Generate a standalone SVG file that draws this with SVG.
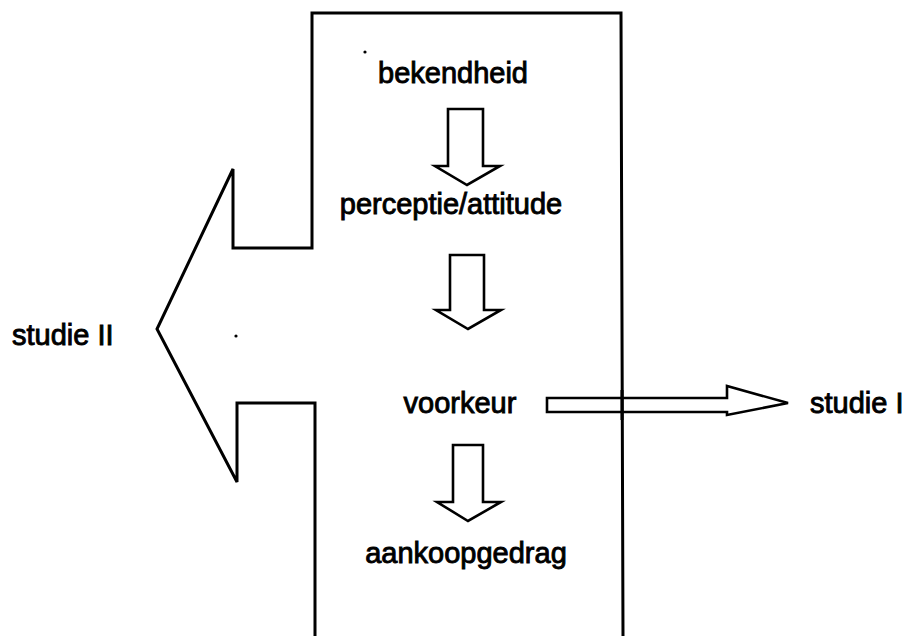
<svg xmlns="http://www.w3.org/2000/svg" width="908" height="636" viewBox="0 0 908 636">
  <style>
    .outline { fill: none; stroke: #000; stroke-width: 3; stroke-linejoin: miter; }
    .hollow { fill: none; stroke: #000; stroke-width: 2.6; stroke-linejoin: miter; }
    .label { font-family: "Liberation Sans", Arial, sans-serif; font-size: 29px; fill: #000; stroke: #000; stroke-width: 0.9; }
    .speck { fill: #000; }
  </style>
  <rect width="908" height="636" fill="#fff"/>

  <!-- frame with the large left-pointing block arrow -->
  <g id="frame">
    <path class="outline" d="M315,636 L315,403 L237,403 L237,482 L157,329 L233,169 L233,248 L312,248 L312,13 L621,13 L623,636"/>
  </g>

  <g id="connectors">
    <!-- hollow down arrows between the stages -->
    <path class="hollow" d="M448,109 L483,109 L483,166 L500,166 L467,185 L435,166 L448,166 Z"/>
    <path class="hollow" d="M450,255 L484,255 L484,310 L501,310 L468,329 L436,310 L450,310 Z"/>
    <path class="hollow" d="M453,445 L483,445 L483,502 L501,502 L468,521 L437,502 L453,502 Z"/>
    <!-- hollow arrow to the right -->
    <path class="hollow" d="M547,398 L727,398 L727,386 L788,403 L727,415 L727,412 L547,412 Z"/>
    <!-- frame edge runs across the right arrow -->
    <line x1="622" y1="390" x2="622" y2="420" stroke="#000" stroke-width="3"/>
  </g>

  <g id="bekendheid"><text class="label" x="453" y="83" text-anchor="middle">bekendheid</text></g>
  <g id="perceptie"><text class="label" x="451" y="214" text-anchor="middle">perceptie/attitude</text></g>
  <g id="voorkeur"><text class="label" x="460" y="413" text-anchor="middle">voorkeur</text></g>
  <g id="aankoopgedrag"><text class="label" x="466" y="563" text-anchor="middle">aankoopgedrag</text></g>
  <g id="studie-1"><text class="label" x="810" y="413">studie I</text></g>
  <g id="studie-2"><text class="label" x="12" y="345">studie II</text></g>

  <circle class="speck" cx="365" cy="52" r="1.6"/>
  <circle class="speck" cx="236" cy="336" r="1.6"/>
</svg>
